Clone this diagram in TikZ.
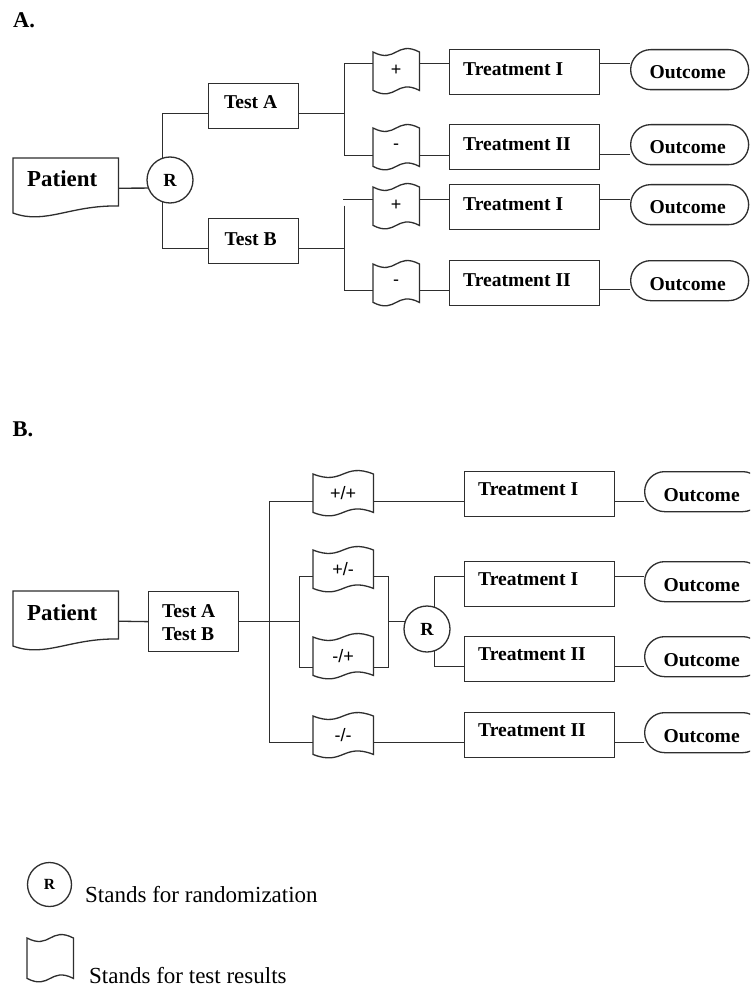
\documentclass[tikz,border=0pt]{standalone}
\usepackage{fontspec}
\setmainfont{Liberation Serif}
\newfontfamily\sansf{Liberation Sans}
\usetikzlibrary{calc}
\tikzset{
  ln/.style={line width=1.3pt, draw=black!82},
  geo/.style={rectangle, inner sep=0pt, anchor=north west},
  boxn/.style={geo, ln},
  ocn/.style={geo, ln, rounded corners=20pt, minimum width=118pt, minimum height=40pt},
  trn/.style={boxn, minimum width=150pt, minimum height=45pt},
  rnode/.style={circle, ln, inner sep=0pt, minimum size=46pt, font=\fontsize{18.5}{20}\selectfont\bfseries},
  bt/.style={font=\fontsize{19.6}{23}\selectfont\bfseries, inner sep=0pt},
  pt/.style={font=\fontsize{22.9}{26}\selectfont\bfseries, inner sep=0pt},
  hd/.style={font=\fontsize{22.5}{26}\selectfont\bfseries, inner sep=0pt},
  lg/.style={font=\fontsize{23}{26}\selectfont, inner sep=0pt, anchor=base west},
  tp/.style={geo, font=\sansf\fontsize{18}{20}\selectfont, text depth=1pt},
}
\newcommand\tapeline[1]{\draw[ln] (#1.north west) .. controls ($(#1.north)+(0,12)$) and ($(#1.north)+(0,-12)$) .. (#1.north east) -- (#1.south east) .. controls ($(#1.south)+(0,-12)$) and ($(#1.south)+(0,12)$) .. (#1.south west) -- cycle;}
\newcommand\patientline[1]{\draw[ln] (#1.north west) -- (#1.north east) -- ($(#1.north east)+(0,48)$) .. controls ($(#1.north west)+(57,47)$) and ($(#1.north west)+(32,67)$) .. ($(#1.north west)+(0,55)$) -- cycle;}
\begin{document}
\begin{tikzpicture}[x=1pt,y=-1pt]
\useasboundingbox (0,0) rectangle (750,992);
\fill[white] (0,0) rectangle (750,992);
\clip (0,0) rectangle (750,992);

% ================= A =================
\node[hd] (labA) at (24,20) {A.};
\node[geo, minimum width=105pt, minimum height=60pt] (patA) at (13,158) {};
\patientline{patA}
\node[pt, anchor=base] (patAt) at ([xshift=-3.5pt,yshift=-29pt]patA.north) {Patient};
\node[rnode] (RA) at (170,180) {R};
\node[boxn, minimum width=90pt, minimum height=45pt] (tA) at (208,83) {};
\node[bt, anchor=base] (tAt) at ([xshift=-3pt,yshift=-26pt]tA.north) {Test A};
\node[boxn, minimum width=90pt, minimum height=45pt] (tB) at (208,218) {};
\node[bt, anchor=base] (tBt) at ([xshift=-3pt,yshift=-27pt]tB.north) {Test B};

\node[tp, minimum width=46pt, minimum height=38pt] (tpA1) at (373,52) {+};
\node[tp, minimum width=46pt, minimum height=38pt] (tpA2) at (373,128) {-};
\node[tp, minimum width=46pt, minimum height=38pt] (tpA3) at (373,187) {+};
\node[tp, minimum width=46pt, minimum height=38pt] (tpA4) at (373,264) {-};
\tapeline{tpA1}\tapeline{tpA2}\tapeline{tpA3}\tapeline{tpA4}

\node[trn] (trA1) at (449,49) {};
\node[trn] (trA2) at (449,124) {};
\node[trn] (trA3) at (449,184) {};
\node[trn] (trA4) at (449,260) {};
\node[bt, anchor=base west] (trA1t) at ([xshift=14pt,yshift=-26.5pt]trA1.north west) {Treatment I};
\node[bt, anchor=base west] (trA2t) at ([xshift=14pt,yshift=-26.5pt]trA2.north west) {Treatment II};
\node[bt, anchor=base west] (trA3t) at ([xshift=14pt,yshift=-26.5pt]trA3.north west) {Treatment I};
\node[bt, anchor=base west] (trA4t) at ([xshift=14pt,yshift=-26.5pt]trA4.north west) {Treatment II};

\node[ocn] (ocA1) at (630,49) {};
\node[ocn] (ocA2) at (630,124) {};
\node[ocn] (ocA3) at (630,184) {};
\node[ocn] (ocA4) at (630,260) {};
\foreach \n in {ocA1,ocA2,ocA3,ocA4}
  \node[bt, anchor=base] (\n t) at ([xshift=-2pt,yshift=-30pt]\n.north) {Outcome};

\draw[ln] (patA.east) -- (RA.200);
\draw[ln] (RA.108) |- ([yshift=-7.5pt]tA.west);
\draw[ln] (RA.252) |- ([yshift=-7.5pt]tB.west);
\draw[ln] ([yshift=-7.5pt]tA.east) -- ++(45,0) coordinate (jA);
\draw[ln] ([yshift=8pt]tpA1.west) -| (jA) |- ([yshift=-8pt]tpA2.west);
\draw[ln] ([yshift=-7.5pt]tB.east) -- ++(45,0) coordinate (jB);
\draw[ln] ([yshift=7pt]tpA3.west) -- ++(-30,0);
\draw[ln] ($(jB)+(0,-43)$) |- ([yshift=-7pt]tpA4.west);

\draw[ln] ([yshift=8pt]tpA1.east) coordinate (c) -- (c -| trA1.west);
\draw[ln] ([yshift=-8pt]tpA2.east) coordinate (c) -- (c -| trA2.west);
\draw[ln] ([yshift=7pt]tpA3.east) coordinate (c) -- (c -| trA3.west);
\draw[ln] ([yshift=-7pt]tpA4.east) coordinate (c) -- (c -| trA4.west);

\draw[ln] ([yshift=8.5pt]trA1.east) coordinate (c) -- (c -| ocA1.west);
\draw[ln] ([yshift=-7.5pt]trA2.east) coordinate (c) -- (c -| ocA2.west);
\draw[ln] ([yshift=7.5pt]trA3.east) coordinate (c) -- (c -| ocA3.west);
\draw[ln] ([yshift=-6.5pt]trA4.east) coordinate (c) -- (c -| ocA4.west);

% ================= B =================
\node[hd] (labB) at (23,429.5) {B.};
\node[geo, minimum width=105pt, minimum height=60pt] (patB) at (13,591) {};
\patientline{patB}
\node[pt, anchor=base] (patBt) at ([xshift=-3.5pt,yshift=-29pt]patB.north) {Patient};
\node[boxn, minimum width=90pt, minimum height=60pt] (tAB) at (148,591) {};
\node[bt, anchor=base west] (tABt1) at ([xshift=14pt,yshift=-26pt]tAB.north west) {Test A};
\node[bt, anchor=base west] (tABt2) at ([xshift=14pt,yshift=-49pt]tAB.north west) {Test B};

\node[tp, minimum width=60pt, minimum height=38pt] (tpB1) at (313,474) {+/+};
\node[tp, minimum width=60pt, minimum height=38pt] (tpB2) at (313,550) {+/-};
\node[tp, minimum width=60pt, minimum height=38pt] (tpB3) at (313,637) {-/+};
\node[tp, minimum width=60pt, minimum height=38pt] (tpB4) at (313,716) {-/-};
\tapeline{tpB1}\tapeline{tpB2}\tapeline{tpB3}\tapeline{tpB4}

\node[rnode] (RB) at (427,629) {R};

\node[trn] (trB1) at (464,471) {};
\node[trn] (trB2) at (464,561) {};
\node[trn] (trB3) at (464,636) {};
\node[trn] (trB4) at (464,712) {};
\node[bt, anchor=base west] (trB1t) at ([xshift=14pt,yshift=-24pt]trB1.north west) {Treatment I};
\node[bt, anchor=base west] (trB2t) at ([xshift=14pt,yshift=-24pt]trB2.north west) {Treatment I};
\node[bt, anchor=base west] (trB3t) at ([xshift=14pt,yshift=-24pt]trB3.north west) {Treatment II};
\node[bt, anchor=base west] (trB4t) at ([xshift=14pt,yshift=-24pt]trB4.north west) {Treatment II};

\node[ocn] (ocB1) at (644,471) {};
\node[ocn] (ocB2) at (644,561) {};
\node[ocn] (ocB3) at (644,636) {};
\node[ocn] (ocB4) at (644,712) {};
\foreach \n in {ocB1,ocB2,ocB3,ocB4}
  \node[bt, anchor=base] (\n t) at ([xshift=-2pt,yshift=-30pt]\n.north) {Outcome};

\draw[ln] (patB.east) -- (tAB.west);
\draw[ln] (tAB.east) -- ++(60,0) coordinate (jB2);
\coordinate (jB1) at ($(tAB.east)+(30,0)$);
\draw[ln] ([yshift=-8pt]tpB1.west) -| (jB1) |- ([yshift=-7pt]tpB4.west);
\draw[ln] ([yshift=-7pt]tpB2.west) -| (jB2) |- ([yshift=-11pt]tpB3.west);

\draw[ln] ([yshift=-8pt]tpB1.east) coordinate (c) -- (c -| trB1.west);
\draw[ln] ([yshift=-7pt]tpB2.east) -- ++(15,0) coordinate (jB3) |- ([yshift=-11pt]tpB3.east);
\draw[ln] (jB3 |- RB.162) -- (RB.162);
\draw[ln] (RB.72) |- ([yshift=7.5pt]trB2.west);
\draw[ln] (RB.288) |- ([yshift=-7.5pt]trB3.west);
\draw[ln] ([yshift=-7pt]tpB4.east) coordinate (c) -- (c -| trB4.west);

\draw[ln] ([yshift=-7.5pt]trB1.east) coordinate (c) -- (c -| ocB1.west);
\draw[ln] ([yshift=7.5pt]trB2.east) coordinate (c) -- (c -| ocB2.west);
\draw[ln] ([yshift=-7.5pt]trB3.east) coordinate (c) -- (c -| ocB3.west);
\draw[ln] ([yshift=-7.5pt]trB4.east) coordinate (c) -- (c -| ocB4.west);

% ================= Legend =================
\node[rnode, minimum size=44pt, font=\fontsize{15.5}{18}\selectfont\bfseries] (RL) at (49.5,884.5) {R};
\node[lg] (RLt) at (85,902) {Stands for randomization};
\node[geo, minimum width=46pt, minimum height=40pt] (tpL) at (27,938) {};
\tapeline{tpL}
\node[lg] (tpLt) at (89,983) {Stands for test results};
\end{tikzpicture}
\end{document}
